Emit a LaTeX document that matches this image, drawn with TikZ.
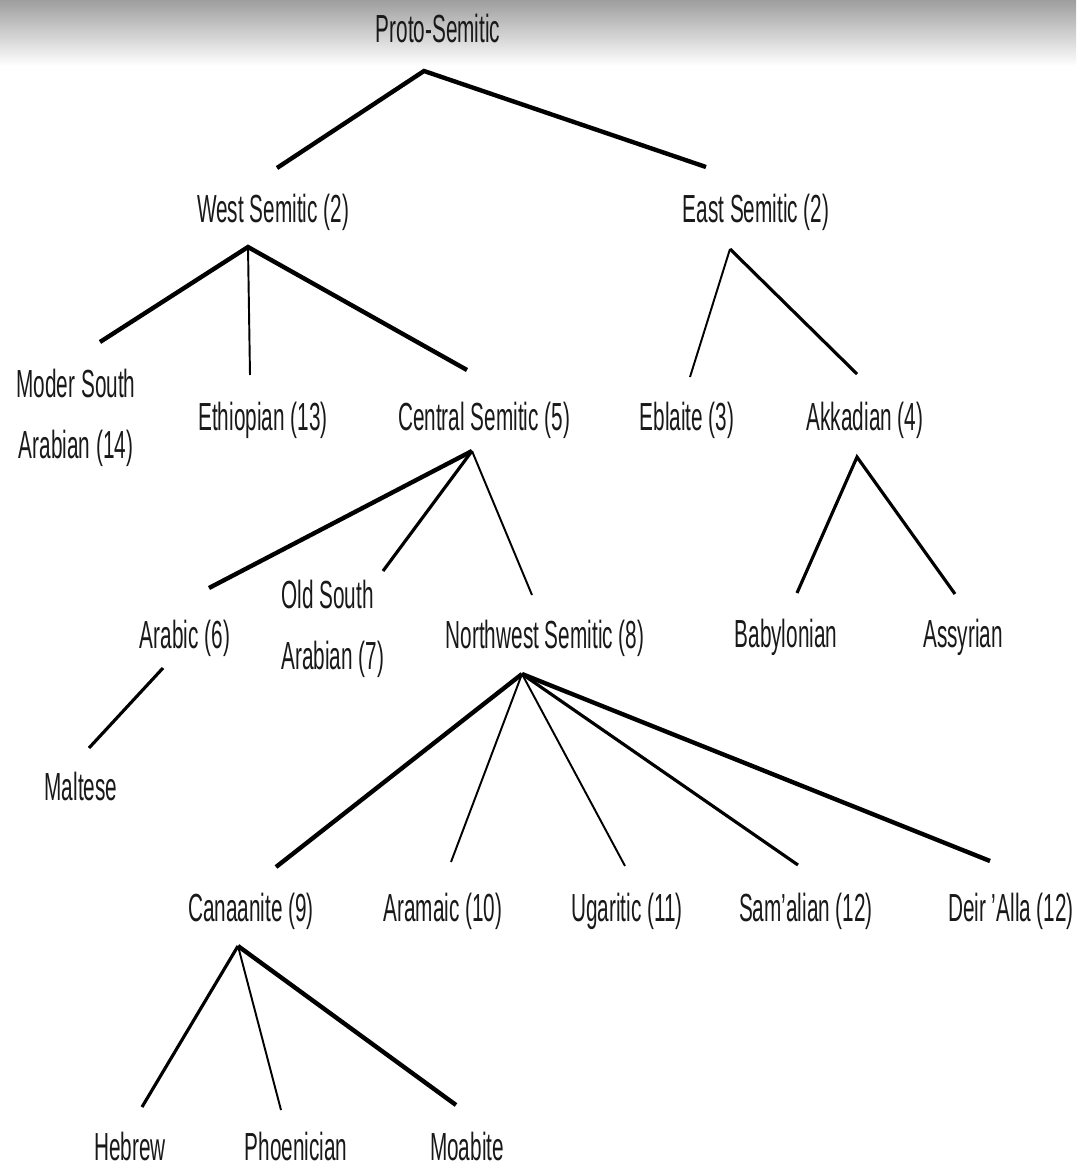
\documentclass[tikz,border=0pt]{standalone}
\usepackage{fontspec}
\setmainfont{Liberation Sans}[FakeStretch=0.53]
\begin{document}
\begin{tikzpicture}[x=0.02cm,y=-0.02cm]
            \tikzstyle{lang}=[inner sep=0pt,anchor=base,text=black!90,font=\fontsize{22.3}{34.5}\selectfont]
            \tikzset{edge/.style = {line width=1.8pt}, thinedge/.style = {line width=1.1pt}, thickedge/.style = {line width=2.5pt}}
            \useasboundingbox (0,0) rectangle (1076,1166);
            \shade[top color=black!38,bottom color=white] (0,0) rectangle (1076,66);
            % level 0 and 1
            \node[lang] (ps) at (438,43) {Proto-Semitic};
            \node[lang] (ws) at (273,222) {West Semitic (2)};
            \node[lang] (es) at (756,222) {East Semitic (2)};
            % level 2
            \node[lang,anchor=center,align=center] (msa) at (76,418) {Moder South\\Arabian (14)};
            \node[lang] (eth) at (263,430) {Ethiopian (13)};
            \node[lang] (cs) at (484,430) {Central Semitic (5)};
            \node[lang] (ebl) at (687,430) {Eblaite (3)};
            \node[lang] (akk) at (865,430) {Akkadian (4)};
            % level 3
            \node[lang] (ar) at (185,648) {Arabic (6)};
            \node[lang,anchor=west,align=left] (osa) at (281,629) {Old South\\Arabian (7)};
            \node[lang] (nws) at (545,648) {Northwest Semitic (8)};
            \node[lang] (bab) at (786,647) {Babylonian};
            \node[lang] (ass) at (963,647) {Assyrian};
            \node[lang] (mal) at (81,800) {Maltese};
            % level 4
            \node[lang] (can) at (251,921) {Canaanite (9)};
            \node[lang] (ara) at (443,921) {Aramaic (10)};
            \node[lang] (uga) at (627,921) {Ugaritic (11)};
            \node[lang] (sam) at (806,921) {Sam’alian (12)};
            \node[lang] (dei) at (1011,921) {Deir ’Alla (12)};
            % level 5
            \node[lang] (heb) at (130,1160) {Hebrew};
            \node[lang] (pho) at (296,1160) {Phoenician};
            \node[lang] (moa) at (467,1160) {Moabite};
            % forks and tips
            \coordinate (ps-f) at (424,71);
            \coordinate (ws-t) at (277,168);
            \coordinate (es-t) at (706,167);
            \coordinate (ws-f) at (248,247);
            \coordinate (msa-t) at (100,342);
            \coordinate (eth-t) at (250,375);
            \coordinate (cs-t) at (467,370);
            \coordinate (es-f) at (730,249);
            \coordinate (ebl-t) at (690,377);
            \coordinate (akk-t) at (857,374);
            \coordinate (cs-f) at (472,451);
            \coordinate (ar-t) at (209,588);
            \coordinate (osa-t) at (383,571);
            \coordinate (nws-t) at (532,595);
            \coordinate (akk-f) at (857,457);
            \coordinate (bab-t) at (797,593);
            \coordinate (ass-t) at (955,594);
            \coordinate (ar-f) at (163,668);
            \coordinate (mal-t) at (89,748);
            \coordinate (nws-f) at (522,674);
            \coordinate (can-t) at (276,867);
            \coordinate (ara-t) at (451,862);
            \coordinate (uga-t) at (625,866);
            \coordinate (sam-t) at (798,865);
            \coordinate (dei-t) at (990,861);
            \coordinate (can-f) at (238,946);
            \coordinate (heb-t) at (142,1107);
            \coordinate (pho-t) at (281,1110);
            \coordinate (moa-t) at (456,1105);
            % branches
            \draw[thickedge] (ws-t) -- (ps-f) -- (es-t);
            \draw[thickedge] (msa-t) -- (ws-f) -- (cs-t);
            \draw[thinedge] (ws-f) -- (eth-t);
            \draw[thinedge] (es-f) -- (ebl-t);
            \draw[edge] (es-f) -- (akk-t);
            \draw[thickedge] (cs-f) -- (ar-t);
            \draw[edge] (cs-f) -- (osa-t);
            \draw[thinedge] (cs-f) -- (nws-t);
            \draw[edge] (bab-t) -- (akk-f) -- (ass-t);
            \draw[edge] (ar-f) -- (mal-t);
            \draw[thickedge] (nws-f) -- (can-t);
            \draw[thinedge] (nws-f) -- (ara-t);
            \draw[thinedge] (nws-f) -- (uga-t);
            \draw[edge] (nws-f) -- (sam-t);
            \draw[thickedge] (nws-f) -- (dei-t);
            \draw[edge] (can-f) -- (heb-t);
            \draw[thinedge] (can-f) -- (pho-t);
            \draw[thickedge] (can-f) -- (moa-t);
        \end{tikzpicture}
\end{document}
